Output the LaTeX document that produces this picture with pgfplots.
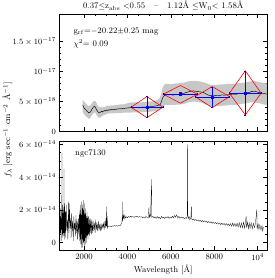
\documentclass[border=0pt]{standalone}
\usepackage{pgfplots}
\pgfplotsset{compat=1.18}
\begin{document}
\begin{tikzpicture}[font=\fontsize{8.5}{10}\selectfont]
\useasboundingbox (-59.5pt,-28pt) rectangle (214.5pt,250pt);
\pgfplotsset{
  panel/.style={
    scale only axis, width=207.5pt,
    xmin=870, xmax=10430,
    tick pos=both, tick align=inside,
    xticklabel pos=lower, yticklabel pos=left,
    xtick={2000,4000,6000,8000,10000},
    minor x tick num=3,
    major tick length=4pt, minor tick length=2pt,
    axis line style={line width=0.4pt},
    every tick/.style={black, line width=0.4pt},
    scaled ticks=false,
    clip=true,
  }
}
% ---------------- top panel ----------------
\begin{axis}[panel,
  at={(0pt,118.5pt)}, anchor=south west, height=117pt,
  ymin=0, ymax=19.5,
  ytick={0,5,10,15},
  yticklabels={$0$, $5\times10^{-18}$, $10^{-17}$, $1.5\times10^{-17}$},
  minor y tick num=4,
  xticklabels={},
]
\addplot[fill=black!22, draw=none] coordinates {
(1940,5.3) (1990,5.0) (2050,4.8) (2100,4.6) (2160,4.4) (2220,4.2) (2280,4.3) (2340,4.6) (2400,4.9) (2460,5.1) (2510,5.1) (2560,4.9) (2620,4.4) (2680,4.1) (2740,4.0) (2800,4.1) (2860,4.0) (2920,4.1) (2980,4.1) (3050,4.3) (3150,4.25) (3250,4.35) (3350,4.35) (3450,4.4) (3550,4.45) (3650,4.5) (3750,4.5) (3850,4.55) (3950,4.65) (4050,4.75) (4150,4.85) (4300,4.85) (4450,4.9) (4600,4.85) (4750,4.9) (4900,4.95) (5050,5.0) (5200,5.05) (5350,5.2) (5480,5.5) (5560,6.3) (5620,7.3) (5700,7.8) (5800,7.95) (6000,7.9) (6200,8.0) (6400,8.05) (6600,8.15) (6800,8.35) (7000,8.45) (7200,8.4) (7400,8.3) (7600,8.1) (7800,7.8) (8000,7.75) (8200,7.8) (8400,7.85) (8600,7.9) (8800,7.95) (9000,7.95) (9200,8.1) (9400,8.15) (9600,8.3) (9800,8.45) (10000,8.3) (10200,8.15) (10420,8.0)
(10420,4.4) (10200,4.6) (10000,4.75) (9800,4.9) (9600,4.8) (9400,4.65) (9200,4.6) (9000,4.45) (8800,4.45) (8600,4.35) (8400,4.3) (8200,4.25) (8000,4.2) (7800,4.25) (7600,4.5) (7400,4.8) (7200,4.95) (7000,5.0) (6800,4.85) (6600,4.6) (6400,4.5) (6200,4.45) (6000,4.4) (5800,4.45) (5700,4.4) (5620,4.0) (5560,3.7) (5480,3.6) (5350,3.45) (5200,3.35) (5050,3.3) (4900,3.25) (4750,3.25) (4600,3.2) (4450,3.2) (4300,3.2) (4150,3.15) (4050,3.15) (3950,3.15) (3850,3.15) (3750,3.1) (3650,3.1) (3550,3.1) (3450,3.05) (3350,3.05) (3250,3.0) (3150,3.0) (3050,2.95) (2980,2.8) (2920,2.75) (2860,2.6) (2800,2.5) (2740,2.3) (2680,2.3) (2620,2.5) (2560,2.9) (2510,3.2) (2460,3.1) (2400,2.9) (2340,2.6) (2280,2.2) (2220,2.1) (2160,2.3) (2100,2.5) (2050,2.7) (1990,2.9) (1940,3.3)
} -- cycle;
\addplot[black, line width=0.45pt] coordinates {
(1940,4.4) (1970,4.2) (2000,3.9) (2030,3.8) (2060,3.7) (2092,3.6) (2130,3.4) (2170,3.3) (2210,3.1) (2250,3.2) (2276,3.2) (2320,3.4) (2360,3.7) (2400,3.9) (2440,4.1) (2480,4.2) (2507,4.15) (2540,3.9) (2580,3.6) (2620,3.4) (2660,3.2) (2700,3.1) (2737,3.15) (2780,3.3) (2820,3.4) (2860,3.25) (2900,3.4) (2940,3.5) (2980,3.4) (3046,3.6) (3100,3.5) (3150,3.65) (3200,3.55) (3250,3.7) (3300,3.6) (3350,3.7) (3400,3.65) (3450,3.75) (3500,3.7) (3550,3.78) (3600,3.75) (3659,3.8) (3720,3.78) (3780,3.85) (3840,3.82) (3900,3.9) (3960,3.88) (4020,3.95) (4080,3.92) (4120,4.0) (4200,3.98) (4300,4.02) (4400,4.0) (4500,4.05) (4600,4.02) (4700,4.08) (4800,4.05) (4890,4.05) (5000,4.1) (5100,4.15) (5200,4.2) (5300,4.25) (5400,4.35) (5503,4.45) (5560,4.9) (5620,5.6) (5680,5.9) (5734,6.1) (5800,6.2) (5900,6.1) (6000,6.15) (6100,6.05) (6200,6.2) (6300,6.15) (6425,6.27) (6500,6.3) (6600,6.35) (6700,6.5) (6800,6.6) (6900,6.7) (7038,6.77) (7150,6.7) (7250,6.65) (7350,6.6) (7500,6.5) (7600,6.3) (7700,6.1) (7800,6.0) (7960,5.94) (8050,6.0) (8150,6.05) (8250,6.0) (8350,6.1) (8450,6.05) (8578,6.1) (8700,6.15) (8800,6.2) (8900,6.25) (9000,6.2) (9100,6.3) (9200,6.35) (9343,6.39) (9450,6.45) (9550,6.5) (9650,6.55) (9720,6.7) (9804,6.66) (9880,6.75) (9950,6.6) (10050,6.5) (10150,6.45) (10250,6.35) (10350,6.3) (10420,6.2)
};
% red diamonds
\addplot[red, line width=0.6pt] coordinates {(4166,4.05) (4897,5.82) (5628,4.05) (4897,2.31) (4166,4.05)};
\addplot[red, line width=0.6pt] coordinates {(5655,6.22) (6439,7.66) (7223,6.22) (6439,4.72) (5655,6.22)};
\addplot[red, line width=0.6pt] coordinates {(7117,5.82) (7908,7.49) (8698,5.82) (7908,3.98) (7117,5.82)};
\addplot[red, line width=0.6pt] coordinates {(8698,6.39) (9429,10.12) (10159,6.39) (9429,2.76) (8698,6.39)};
% blue points
\addplot[blue, only marks, mark=square*, mark size=1.2pt,
  error bars/.cd, x dir=both, x explicit, y dir=both, y explicit,
  error bar style={blue, line width=0.7pt}]
  coordinates {
  (4897,4.05) +- (731,1.75)
  (6439,6.22) +- (784,0.25)
  (7908,5.72) +- (790,1.70)
  (9429,6.39) +- (730,3.68)
};
\node[anchor=west] at (axis cs:1354,16.7) {g$_{\rm rf}$=$-$20.22$\pm$0.25 mag};
\node[anchor=west] at (axis cs:1354,14.6) {$\chi^2$= 0.09};
\end{axis}
\node[anchor=base] at (103.75pt,241pt) {0.37$\leq$z$_{\rm abs}$ $<$0.55 \ \ -- \ \ 1.12\AA\ $\leq$W$_0$$<$ 1.58\AA};
% ---------------- bottom panel ----------------
\begin{axis}[panel,
  at={(0pt,0pt)}, anchor=south west, height=109pt,
  ymin=-0.45, ymax=6.21,
  ytick={0,2,4,6},
  yticklabels={$0$, $2\times10^{-14}$, $4\times10^{-14}$, $6\times10^{-14}$},
  minor y tick num=3,
  xticklabels={2000,4000,6000,8000,$10^4$},
  xlabel={Wavelength [\AA]},
  xlabel style={yshift=2pt},
]
\addplot[black, line width=0.25pt] coordinates {
(870,1.2) (885,0.2) (900,2.1) (915,0.6) (930,1.6) (945,0.1) (960,1.9) (975,0.8) (985,5.5) (992,0.5) (1005,2.3) (1015,0.3) (1030,1.8) (1045,0.4) (1060,2.0) (1068,0.6) (1077,4.5) (1085,0.6) (1095,2.4) (1105,0.2) (1115,2.2) (1125,0.7) (1140,1.9)
(1155,0.3) (1180,2.3) (1205,0.8) (1230,1.4) (1255,0.2) (1280,2.5) (1305,0.6) (1330,2.4) (1355,0.9) (1380,1.5) (1405,0.3) (1430,1.8) (1455,0.7) (1480,1.3) (1505,0.1) (1530,1.6) (1555,0.8) (1580,1.2) (1605,0.4) (1630,1.7) (1655,0.6) (1680,1.3) (1705,0.2) (1730,1.5) (1755,0.5) (1780,1.7)
(1795,0.1) (1810,2.0) (1825,0.2) (1840,2.3) (1855,-0.1) (1870,1.7) (1885,-0.3) (1900,2.5) (1915,0.2) (1930,2.1) (1945,-0.3) (1960,2.6) (1975,0.0) (1990,2.0) (2005,-0.2) (2020,2.4) (2035,0.1) (2050,1.8) (2065,-0.1) (2080,2.1) (2095,0.3) (2110,1.6) (2125,0.0) (2140,1.9) (2155,0.4) (2170,1.5) (2185,0.2) (2200,1.6) (2220,0.5) (2240,1.4) (2260,0.4) (2280,1.5) (2300,0.6) (2320,1.3) (2340,0.5) (2360,1.4)
(2390,0.6) (2420,1.3) (2450,0.7) (2480,1.2) (2510,0.6) (2540,1.4) (2570,0.8) (2600,1.2) (2630,0.7) (2660,1.3) (2690,0.8) (2720,1.1) (2750,0.7) (2780,1.2) (2810,0.8) (2840,1.1) (2870,0.9) (2900,1.2) (2930,0.8) (2960,1.3) (2990,0.9) (3010,1.5) (3030,1.0) (3045,2.2) (3055,1.0) (3070,1.6) (3085,0.9) (3100,1.0)
(3150,0.98) (3200,1.02) (3250,0.97) (3300,1.03) (3350,1.0) (3400,1.05) (3450,1.0) (3500,1.04) (3550,1.0) (3600,1.06) (3650,1.02) (3700,1.1) (3740,1.2) (3760,1.55) (3775,1.3) (3785,2.5) (3795,1.4) (3820,1.65) (3850,1.45) (3880,1.7) (3910,1.5)
(3950,1.58) (4000,1.52) (4050,1.6) (4100,1.55) (4150,1.62) (4200,1.56) (4250,1.6) (4300,1.54) (4350,1.6) (4400,1.57) (4450,1.62) (4500,1.55) (4550,1.6) (4600,1.56) (4650,1.58) (4700,1.52) (4750,1.57) (4800,1.5) (4850,1.6) (4900,1.55) (4960,1.5) (4990,2.15) (5005,1.55) (5050,1.7) (5065,1.55) (5110,3.86) (5125,1.55)
(5170,1.62) (5220,1.5) (5270,1.58) (5320,1.48) (5370,1.6) (5420,1.5) (5470,1.56) (5520,1.45) (5570,1.6) (5620,1.5) (5670,1.55) (5720,1.47) (5770,1.58) (5820,1.5) (5870,1.6) (5920,1.48) (5970,1.57) (6020,1.5) (6070,1.62) (6120,1.52) (6170,1.66) (6220,1.55) (6270,1.7) (6320,1.5) (6370,1.62) (6420,1.48) (6470,1.58) (6520,1.5) (6570,1.55) (6620,1.45) (6670,1.52) (6720,1.48) (6750,1.6) (6762,6.0) (6775,1.8) (6800,1.45) (6840,1.6) (6870,1.4) (6920,1.5) (6946,2.2) (6960,1.45)
(7000,1.38) (7050,1.45) (7100,1.35) (7150,1.42) (7200,1.33) (7250,1.4) (7300,1.3) (7350,1.38) (7400,1.28) (7450,1.36) (7500,1.27) (7550,1.34) (7600,1.25) (7650,1.32) (7700,1.22) (7750,1.3) (7800,1.2) (7850,1.28) (7900,1.18) (7950,1.26) (8000,1.17) (8050,1.24) (8100,1.15) (8150,1.22) (8200,1.13) (8250,1.2) (8300,1.1) (8350,1.2) (8400,1.08) (8450,1.18) (8500,1.06) (8550,1.17) (8600,1.05) (8650,1.15) (8700,1.03) (8750,1.16) (8800,1.0) (8850,1.2) (8900,1.0) (8950,1.18)
(9000,0.98) (9050,1.2) (9100,0.95) (9150,1.22) (9200,0.92) (9250,1.2) (9300,0.9) (9350,1.25) (9400,0.88) (9468,1.6) (9490,0.95) (9530,1.25) (9570,0.85) (9610,1.2) (9650,0.88) (9700,1.22) (9750,0.85) (9800,1.18) (9850,0.9) (9900,1.2) (9960,2.03) (9975,0.85) (10020,1.15) (10060,0.8) (10100,1.1) (10150,0.78) (10200,1.05) (10230,0.7) (10265,0.95)
};
\node[anchor=west] at (axis cs:1432,5.42) {ngc7130};
\end{axis}
\node[rotate=90] at (-52pt,120pt) {$f_\lambda$ [erg sec$^{-1}$ cm$^{-2}$ \AA$^{-1}$]};
\end{tikzpicture}
\end{document}
